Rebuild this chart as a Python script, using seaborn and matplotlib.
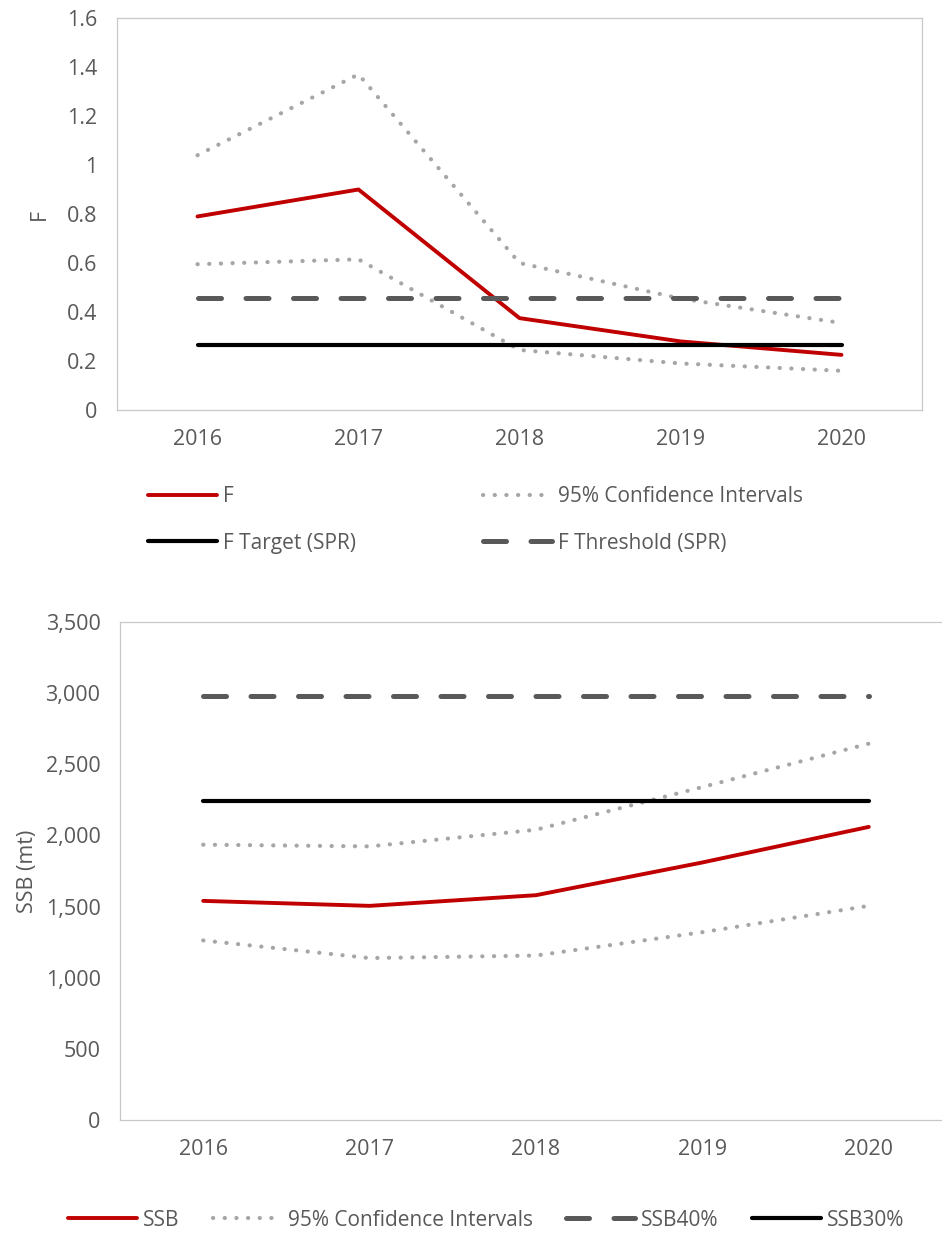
import numpy as np
import pandas as pd
import matplotlib
matplotlib.use("Agg")
import matplotlib.pyplot as plt
import seaborn as sns

# ---- data ----
years = ["2016", "2017", "2018", "2019", "2020"]

f_est = [0.79, 0.90, 0.375, 0.28, 0.225]
f_upper = [1.04, 1.37, 0.60, 0.455, 0.355]
f_lower = [0.595, 0.615, 0.245, 0.19, 0.16]
f_target = [0.265] * 5
f_threshold = [0.457] * 5

ssb_est = [1540, 1505, 1580, 1810, 2060]
ssb_upper = [1935, 1923, 2040, 2340, 2645]
ssb_lower = [1262, 1138, 1156, 1320, 1505]
ssb40 = [2980] * 5
ssb30 = [2245] * 5

sns.set_style("white")
plt.rcParams["font.family"] = ["Open Sans", "DejaVu Sans"]

RED = "#C00000"
DOT = "#A6A6A6"
DASH = "#595959"
TXT = "#595959"
SPINE = "#C8C8C8"

dotted = dict(color=DOT, lw=3.0, ls=(0, (0.05, 2.75)), dash_capstyle="round")
dashed = dict(color=DASH, lw=3.6, ls=(0, (4.6, 4.9)), dash_capstyle="round")
solid_red = dict(color=RED, lw=2.8, solid_capstyle="round")
solid_blk = dict(color="black", lw=3.0, solid_capstyle="round")

fig = plt.figure(figsize=(9.42, 12.37), dpi=100)
W, H = 942, 1237
TICK = 15.5
LEG = 15

def style_axes(ax):
    ax.set_xlim(-0.5, 4.5)
    for s in ax.spines.values():
        s.set_color(SPINE)
        s.set_linewidth(0.9)
    ax.tick_params(axis="both", length=0, labelsize=TICK, labelcolor=TXT)
    ax.tick_params(axis="y", pad=14)
    ax.tick_params(axis="x", pad=14)
    ax.set_xlabel("")
    ax.grid(False)

# ---------------- top panel: F ----------------
ax1 = fig.add_axes([117 / W, 1 - 410 / H, 805 / W, 392 / H])
h_f = sns.lineplot(x=years, y=f_est, ax=ax1, sort=False, **solid_red).lines[-1]
h_ci = sns.lineplot(x=years, y=f_upper, ax=ax1, sort=False, **dotted).lines[-1]
sns.lineplot(x=years, y=f_lower, ax=ax1, sort=False, **dotted)
h_thr = sns.lineplot(x=years, y=f_threshold, ax=ax1, sort=False, **dashed).lines[-1]
h_tgt = sns.lineplot(x=years, y=f_target, ax=ax1, sort=False, **solid_blk).lines[-1]
style_axes(ax1)
ax1.set_ylim(0, 1.6)
ax1.set_yticks(np.arange(0, 1.61, 0.2))
ax1.set_yticklabels(["0", "0.2", "0.4", "0.6", "0.8", "1", "1.2", "1.4", "1.6"])
ax1.set_ylabel("F", fontsize=TICK, color=TXT)
ax1.yaxis.set_label_coords(-0.084, 0.5)

fig.legend([h_f, h_tgt, h_ci, h_thr],
           ["F", "F Target (SPR)", "95% Confidence Intervals", "F Threshold (SPR)"],
           ncol=2, loc="center left", bbox_to_anchor=(148 / W, 1 - 520 / H),
           frameon=False, fontsize=LEG, labelcolor=TXT, handlelength=3.3,
           handletextpad=0.3, columnspacing=6.1, labelspacing=1.2,
           borderpad=0, borderaxespad=0)

# ---------------- bottom panel: SSB ----------------
ax2 = fig.add_axes([120 / W, 1 - 1120 / H, 832 / W, 498 / H])
h_s = sns.lineplot(x=years, y=ssb_est, ax=ax2, sort=False, **solid_red).lines[-1]
h_sci = sns.lineplot(x=years, y=ssb_upper, ax=ax2, sort=False, **dotted).lines[-1]
sns.lineplot(x=years, y=ssb_lower, ax=ax2, sort=False, **dotted)
h_40 = sns.lineplot(x=years, y=ssb40, ax=ax2, sort=False, **dashed).lines[-1]
h_30 = sns.lineplot(x=years, y=ssb30, ax=ax2, sort=False, **solid_blk).lines[-1]
style_axes(ax2)
ax2.set_ylim(0, 3500)
ax2.set_yticks(np.arange(0, 3501, 500))
ax2.yaxis.set_major_formatter(matplotlib.ticker.StrMethodFormatter("{x:,.0f}"))
ax2.set_ylabel("SSB (mt)", fontsize=TICK, color=TXT)
ax2.yaxis.set_label_coords(-0.098, 0.5)

fig.legend([h_s, h_sci, h_40, h_30],
           ["SSB", "95% Confidence Intervals", "SSB40%", "SSB30%"],
           ncol=4, loc="center left", bbox_to_anchor=(68 / W, 1 - 1220 / H),
           frameon=False, fontsize=LEG, labelcolor=TXT, handlelength=3.3,
           handletextpad=0.3, columnspacing=1.6,
           borderpad=0, borderaxespad=0)

fig.savefig("out.png", dpi=100, facecolor="white")
